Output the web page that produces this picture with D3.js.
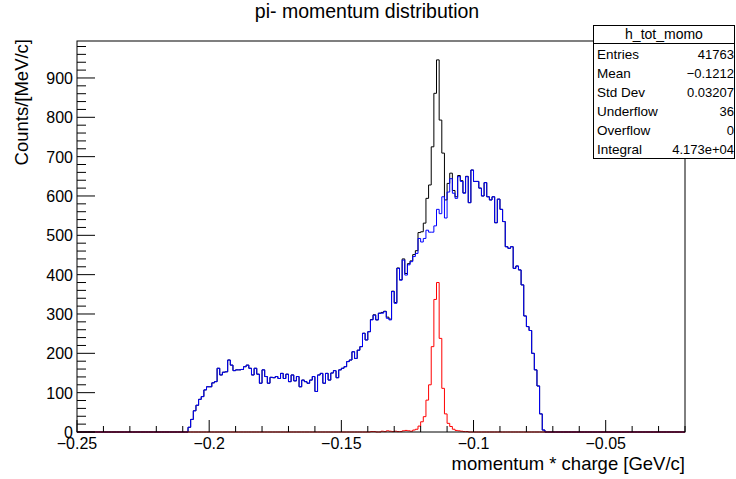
<!DOCTYPE html>
<html>
<head>
<meta charset="utf-8">
<script src="https://cdn.jsdelivr.net/npm/d3@7/dist/d3.min.js"></script>
<style>
  body { margin: 0; background: #fff; }
  text { font-family: "Liberation Sans", Arial, sans-serif; }
</style>
</head>
<body>
<svg id="chart"></svg>
<script>
// histogram binning
const histMin = -0.25;
const histMax = -0.02;
const binWidth = 0.001;

// blue: counts from bin starting at -0.208
const blueStart = -0.208;
const blueCounts = [
  12, 32, 54, 68, 83, 90, 107, 115, 115, 125, 128, 162, 145, 152, 153, 183, 170, 156, 158, 158,
  159, 166, 170, 162, 145, 162, 147, 124, 158, 141, 124, 139, 138, 141, 136, 149, 136, 147, 128, 145,
  130, 141, 115, 132, 128, 124, 132, 141, 103, 145, 149, 124, 149, 132, 150, 156, 138, 158, 162, 166,
  179, 183, 204, 187, 208, 217, 251, 234, 255, 285, 297, 285, 302, 302, 306, 289, 285, 357, 327, 416,
  386, 437, 399, 425, 433, 446, 454, 492, 483, 492, 513, 508, 508, 524, 566, 555, 598, 544, 610, 644,
  607, 594, 649, 637, 607, 649, 583, 666, 637, 637, 620, 600, 634, 598, 590, 598, 532, 592, 566, 535,
  471, 467, 471, 416, 422, 412, 374, 295, 268, 258, 200, 158, 117, 46, 5
];

// black (all pions): counts from bin starting at -0.208
const totalStart = -0.208;
const totalCounts = [
  12, 32, 54, 68, 83, 90, 107, 115, 115, 125, 128, 162, 145, 152, 153, 183, 170, 156, 158, 158,
  159, 166, 170, 162, 145, 162, 147, 124, 158, 141, 124, 139, 138, 141, 136, 149, 136, 147, 128, 145,
  130, 141, 115, 132, 128, 124, 132, 141, 103, 145, 149, 124, 149, 132, 150, 156, 138, 158, 162, 166,
  179, 183, 204, 187, 208, 217, 251, 234, 255, 286, 298, 285, 302, 304, 307, 292, 287, 358, 329, 417,
  387, 440, 403, 428, 435, 451, 461, 507, 509, 531, 594, 628, 725, 861, 946, 793, 709, 590, 632, 658,
  614, 598, 652, 639, 608, 650, 583, 666, 637, 637, 620, 600, 634, 598, 590, 598, 532, 592, 566, 535,
  471, 467, 471, 416, 422, 412, 374, 295, 268, 258, 200, 158, 117, 46, 5
];

// red: counts from bin starting at -0.140
const redStart = -0.140;
const redCounts = [
  0, 1, 1, 0, 0, 2, 1, 3, 2, 1, 2, 1, 1, 3, 4, 3, 2, 5, 7, 15,
  26, 39, 81, 120, 217, 337, 380, 238, 111, 46, 22, 14, 7, 4, 3, 2, 1, 1, 0
];

const xTicks = [-0.25, -0.2, -0.15, -0.1, -0.05];
const xTickLabels = ["\u22120.25", "\u22120.2", "\u22120.15", "\u22120.1", "\u22120.05"];
const yTicks = [0, 100, 200, 300, 400, 500, 600, 700, 800, 900];
const yMax = 994;

const statsTitle = "h_tot_momo";
const statsNames = ["Entries", "Mean", "Std Dev", "Underflow", "Overflow", "Integral"];
const statsValues = ["41763", "\u22120.1212", "0.03207", "36", "0", "4.173e+04"];

const width = 736, height = 479;
const frame = { left: 77, right: 685, top: 41, bottom: 432 };

const svg = d3.select("#chart").attr("width", width).attr("height", height);

const x = d3.scaleLinear().domain([histMin, histMax]).range([frame.left, frame.right]);
const y = d3.scaleLinear().domain([0, yMax]).range([frame.bottom, frame.top]);

const nBins = Math.round((histMax - histMin) / binWidth);

// spread a partial count list over the full binning
function fullBins(start, counts) {
  const off = Math.round((start - histMin) / binWidth);
  const out = [];
  for (let i = 0; i < nBins; i++) {
    const j = i - off;
    out.push({ lo: histMin + i * binWidth, v: (j >= 0 && j < counts.length) ? counts[j] : 0 });
  }
  out.push({ lo: histMax, v: out[out.length - 1].v });
  return out;
}

const step = d3.line()
  .x(d => x(d.lo))
  .y(d => y(d.v))
  .curve(d3.curveStepAfter);

svg.append("defs").append("clipPath").attr("id", "clip")
  .append("rect")
  .attr("x", frame.left).attr("y", frame.top)
  .attr("width", frame.right - frame.left).attr("height", frame.bottom - frame.top + 1);

const plot = svg.append("g").attr("clip-path", "url(#clip)");

[[totalStart, totalCounts, "#000000"], [blueStart, blueCounts, "#0000ff"], [redStart, redCounts, "#ff0000"]]
  .forEach(([start, counts, col]) => {
    plot.append("path")
      .datum(fullBins(start, counts))
      .attr("d", step)
      .attr("fill", "none")
      .attr("stroke", col)
      .attr("stroke-width", 1);
  });

// frame
svg.append("rect")
  .attr("x", frame.left).attr("y", frame.top)
  .attr("width", frame.right - frame.left).attr("height", frame.bottom - frame.top)
  .attr("fill", "none").attr("stroke", "#000").attr("stroke-width", 1);

// x axis ticks (inward)
const xMinor = d3.range(0, 24).map(k => histMin + k * 0.01).filter(v => v <= histMax + 1e-9);
svg.append("g").selectAll("line").data(xMinor).enter().append("line")
  .attr("x1", d => x(d)).attr("x2", d => x(d))
  .attr("y1", frame.bottom)
  .attr("y2", (d, i) => frame.bottom - (i % 5 === 0 ? 12 : 6))
  .attr("stroke", "#000");

svg.append("g").selectAll("text").data(xTicks).enter().append("text")
  .attr("x", d => x(d)).attr("y", 449)
  .attr("text-anchor", "middle")
  .style("font-size", "16px")
  .text((d, i) => xTickLabels[i]);

// y axis ticks (inward)
const yMinor = d3.range(0, 50).map(k => k * 20).filter(v => v <= yMax);
svg.append("g").selectAll("line").data(yMinor).enter().append("line")
  .attr("y1", d => y(d)).attr("y2", d => y(d))
  .attr("x1", frame.left)
  .attr("x2", d => frame.left + (d % 100 === 0 ? 18 : 9))
  .attr("stroke", "#000");

svg.append("g").selectAll("text").data(yTicks).enter().append("text")
  .attr("x", 73).attr("y", d => y(d) + 6)
  .attr("text-anchor", "end")
  .style("font-size", "16px")
  .text(d => d);

// axis titles
svg.append("text")
  .attr("x", frame.right).attr("y", 470)
  .attr("text-anchor", "end")
  .style("font-size", "18.5px")
  .text("momentum * charge [GeV/c]");

svg.append("text")
  .attr("transform", `translate(28,${frame.top - 2}) rotate(-90)`)
  .attr("text-anchor", "end")
  .style("font-size", "18.5px")
  .text("Counts/[MeV/c]");

// title
svg.append("text")
  .attr("x", 367).attr("y", 18)
  .attr("text-anchor", "middle")
  .style("font-size", "19.5px")
  .text("pi- momentum distribution");

// stats box
const sb = svg.append("g");
sb.append("rect")
  .attr("x", 593.5).attr("y", 25.5).attr("width", 141).attr("height", 133)
  .attr("fill", "#fff").attr("stroke", "#000");
sb.append("line")
  .attr("x1", 593.5).attr("x2", 734.5).attr("y1", 43.5).attr("y2", 43.5)
  .attr("stroke", "#000");
sb.append("text")
  .attr("x", 664).attr("y", 39)
  .attr("text-anchor", "middle")
  .style("font-size", "14px")
  .text(statsTitle);
statsNames.forEach((name, i) => {
  const by = 59 + i * 19;
  sb.append("text").attr("x", 597).attr("y", by).style("font-size", "13.5px").text(name);
  sb.append("text").attr("x", 734).attr("y", by).attr("text-anchor", "end")
    .style("font-size", "13px").text(statsValues[i]);
});
</script>
</body>
</html>
